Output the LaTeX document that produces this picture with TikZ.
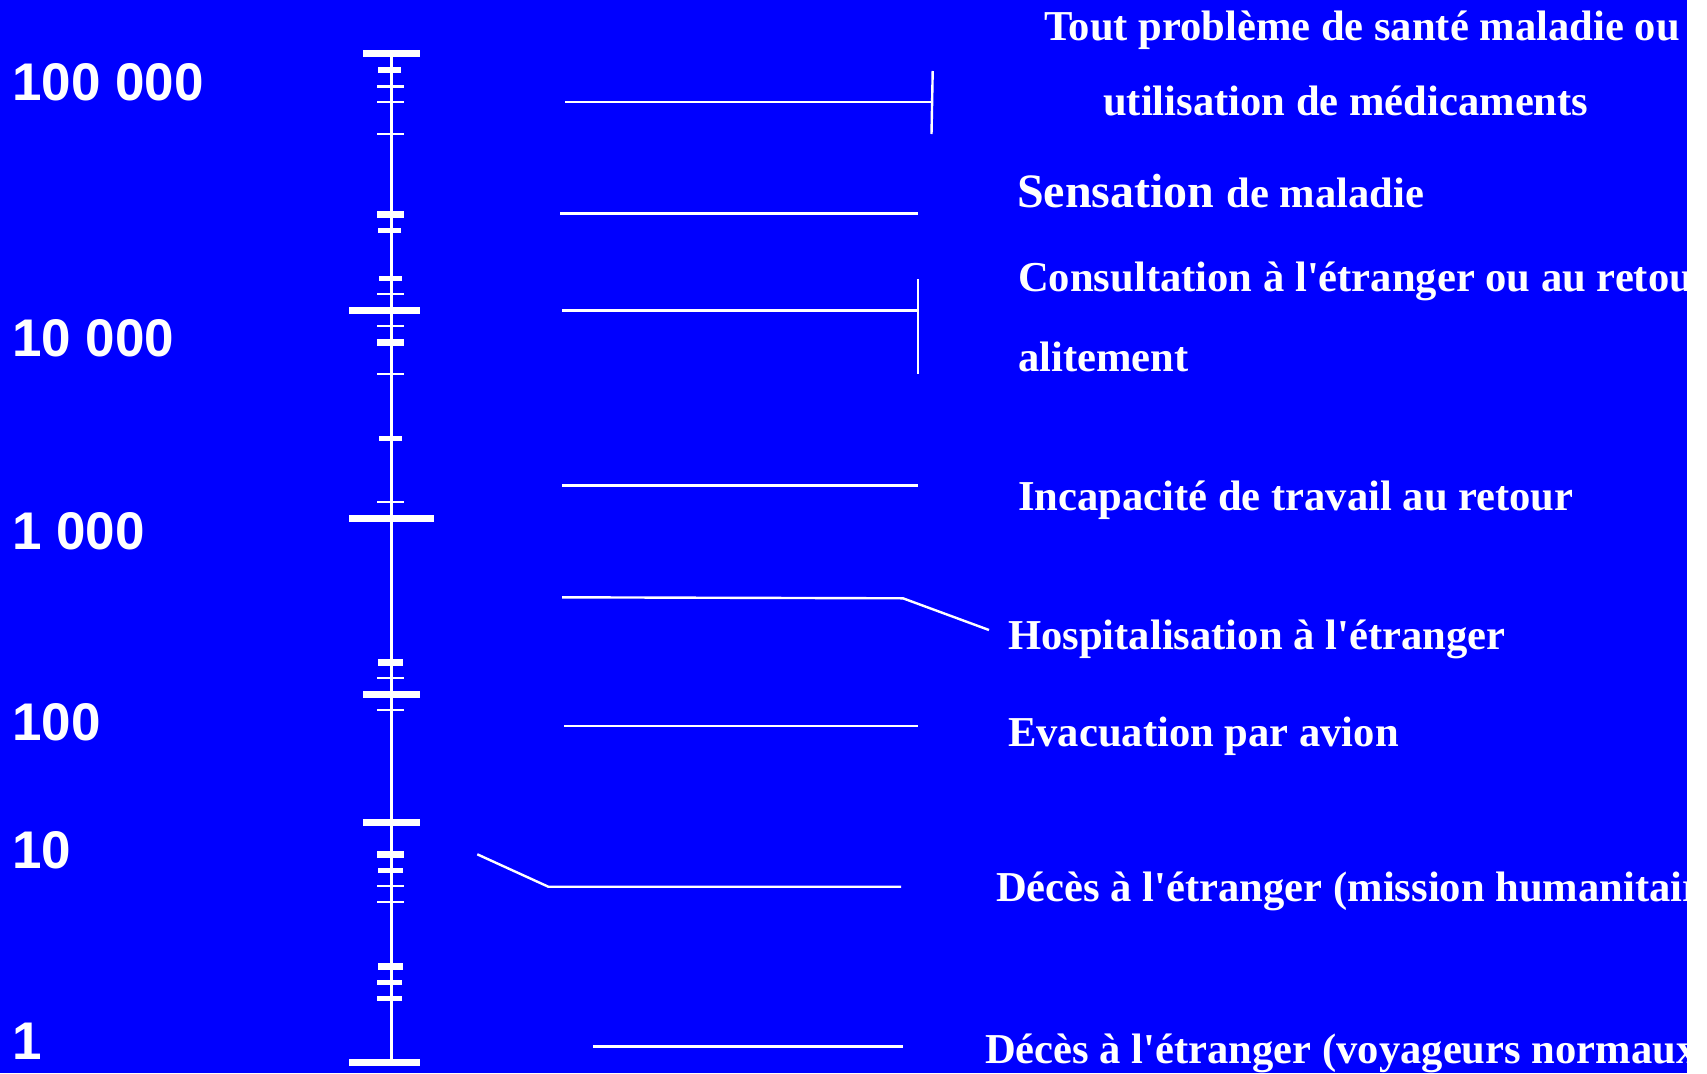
\documentclass[tikz,border=0pt]{standalone}
\usepackage{fontspec}
\setmainfont{Liberation Serif}
\newfontfamily\rfont[Ligatures=TeXOff]{Liberation Serif}
\newfontfamily\nfont{Liberation Sans}
\definecolor{bg}{RGB}{0,0,255}
\begin{document}
\begin{tikzpicture}[x=1pt,y=-1pt,
  lbl/.style={anchor=base west, inner sep=0pt, text=white, font=\rfont\bfseries\fontsize{42.6}{48}\selectfont},
  num/.style={anchor=base west, inner sep=0pt, text=white, font=\nfont\bfseries\fontsize{53}{60}\selectfont},
  conn/.style={draw=white, line width=2.4pt},
  axisline/.style={draw=white, line width=3pt}]
\useasboundingbox (0,0) rectangle (1707,1073);
\fill[white] (0,0) rectangle (1707,1073);
\fill[bg] (0,0) rectangle (1687,1073);

% axis
\coordinate (atop) at (391,54);
\coordinate (abot) at (391,1062);
\draw[axisline] (atop) -- (abot);
\foreach \y/\l/\r/\w in {
  54/-28/29/7, 70/-13/10/5, 86/-14/13/3, 102/-14/13/2, 134/-14/13/2,
  214/-14/13/7, 230/-13/10/5, 278/-12/11/5, 294/-14/13/2, 310/-42/29/7,
  326/-14/13/2, 342/-14/13/7, 374/-14/13/2, 438/-12/11/5, 502/-14/13/2,
  518/-42/43/7,
  662/-13/12/7, 678/-14/13/2, 694/-28/29/7, 710/-14/13/2,
  822/-28/29/7, 854/-14/13/7, 870/-13/12/5, 886/-14/13/2, 902/-14/13/2,
  966/-13/12/7, 982/-14/11/5, 998/-14/11/5, 1062/-42/29/7}
  \draw[white, line width=\w pt] ({391+(\l)},\y) -- ({391+(\r)},\y);

% numbers
\node[num] (n5) at (12,100) {100 000};
\node[num] (n4) at (12,356) {10 000};
\node[num] (n3) at (12,549) {1 000};
\node[num] (n2) at (12,740) {100};
\node[num] (n1) at (12,868) {10};
\node[num] (n0) at (12,1059) {1};

% connectors
\coordinate (c1a) at (565,102); \coordinate (c1b) at (932,102);
\coordinate (c1t) at (932.7,71); \coordinate (c1u) at (931.5,134);
\draw[conn] (c1a) -- (c1b);
\draw[conn] (c1t) -- (c1u);
\coordinate (c2a) at (560,213.5); \coordinate (c2b) at (918,213.5);
\draw[conn] (c2a) -- (c2b);
\coordinate (c3a) at (562,310.5); \coordinate (c3b) at (918,310.5);
\coordinate (c3t) at (918,279); \coordinate (c3u) at (918,374);
\draw[conn] (c3a) -- (c3b);
\draw[conn] (c3t) -- (c3u);
\coordinate (c4a) at (562,485.5); \coordinate (c4b) at (918,485.5);
\draw[conn] (c4a) -- (c4b);
\coordinate (c5a) at (562,597.3); \coordinate (c5b) at (903,598.3); \coordinate (c5c) at (989,630);
\draw[conn] (c5a) -- (c5b) -- (c5c);
\coordinate (c6a) at (564,726); \coordinate (c6b) at (918,726);
\draw[conn] (c6a) -- (c6b);
\coordinate (c7a) at (477.3,854.3); \coordinate (c7b) at (548.3,886.7); \coordinate (c7c) at (901,886.7);
\draw[conn] (c7a) -- (c7b) -- (c7c);
\coordinate (c8a) at (593,1046.3); \coordinate (c8b) at (903,1046.3);
\draw[conn] (c8a) -- (c8b);

% texts
\begin{scope}
\clip (0,0) rectangle (1687,1073);
\node[lbl] (t1) at (1044,41) {Tout problème de santé maladie ou};
\node[lbl] (t2) at (1103,115) {utilisation de médicaments};
\node[lbl] (t3) at (1017,207) {{\fontsize{48}{52}\selectfont Sensation }de maladie};
\node[lbl] (t4) at (1018,291) {Consultation à l'étranger ou au retour};
\node[lbl] (t5) at (1018,371) {alitement};
\node[lbl] (t6) at (1018,510.5) {Incapacité de travail au retour};
\node[lbl] (t7) at (1008,649) {Hospitalisation à l'étranger};
\node[lbl] (t8) at (1008,746) {Evacuation par avion};
\node[lbl] (t9) at (996,901) {Décès à l'étranger (mission humanitaire)};
\node[lbl] (t10) at (985,1063) {Décès à l'étranger (voyageurs normaux)};
\end{scope}
\end{tikzpicture}
\end{document}
